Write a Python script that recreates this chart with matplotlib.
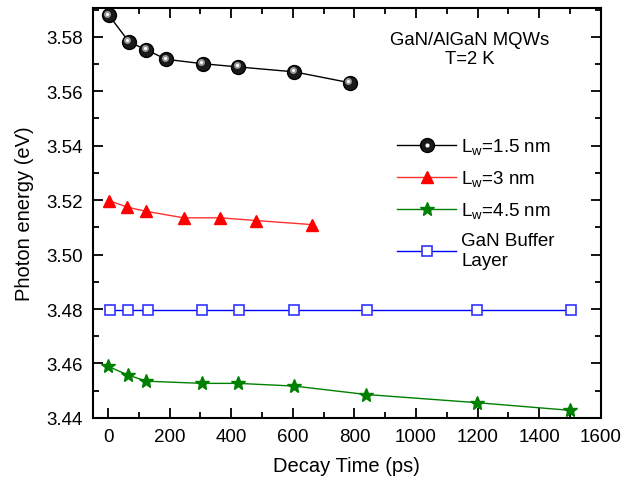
import matplotlib
matplotlib.use("Agg")
import matplotlib.pyplot as plt
import matplotlib.transforms as mtransforms
from matplotlib.lines import Line2D
from matplotlib.ticker import MultipleLocator, FormatStrFormatter

plt.rcParams['font.family'] = ['Liberation Sans', 'DejaVu Sans']

# Decay time (ps) and peak photon energy (eV) for each sample
t_15 = [3, 68, 124, 189, 307, 423, 605, 785]
e_15 = [3.5878, 3.5781, 3.5752, 3.5717, 3.5701, 3.5689, 3.5671, 3.5631]

t_30 = [3, 63, 123, 245, 364, 481, 662]
e_30 = [3.5198, 3.5174, 3.5159, 3.5135, 3.5135, 3.5125, 3.5110]

t_45 = [1, 64, 124, 305, 422, 605, 839, 1199, 1500]
e_45 = [3.4589, 3.4558, 3.4535, 3.4527, 3.4527, 3.4517, 3.4486, 3.4456, 3.4428]

t_buf = [6, 65, 130, 306, 426, 605, 842, 1197, 1502]
e_buf = [3.4797, 3.4797, 3.4797, 3.4797, 3.4797, 3.4797, 3.4797, 3.4797, 3.4797]

labels = [r'L$_\mathregular{w}$=1.5 nm', r'L$_\mathregular{w}$=3 nm',
          r'L$_\mathregular{w}$=4.5 nm', 'GaN Buffer\nLayer']

fig = plt.figure(figsize=(6.22, 4.81), dpi=100)
ax = fig.add_axes([0.149, 0.129, 0.817, 0.852])

# shaded spheres: dark ball plus a small highlight
l1, = ax.plot(t_15, e_15, '-', color='black', lw=1.0, marker='o', ms=10,
              mfc='#1a1a1a', mec='black', mew=1.0, zorder=3)
hl = mtransforms.offset_copy(ax.transData, fig=fig, x=-1.6, y=1.6, units='dots')
ax.plot(t_15, e_15, 'o', ms=5, mfc='#9a9a9a', mec='none', transform=hl, zorder=4)
ax.plot(t_15, e_15, 'o', ms=2.2, mfc='white', mec='none', transform=hl, zorder=5)

l2, = ax.plot(t_30, e_30, '-', color='#ff3030', lw=1.0, marker='^', ms=9,
              mfc='red', mec='red', zorder=3)
l3, = ax.plot(t_45, e_45, '-', color='#008000', lw=1.0, marker='*', ms=10,
              mfc='#008000', mec='#008000', zorder=3)
l4, = ax.plot(t_buf, e_buf, '-', color='#0000ff', lw=1.0, marker='s', ms=7.5,
              mfc='white', mec='#3333ff', mew=1.2, zorder=3)

ax.set_xlim(-50, 1600)
ax.set_ylim(3.44, 3.5905)
ax.xaxis.set_major_locator(MultipleLocator(200))
ax.xaxis.set_minor_locator(MultipleLocator(100))
ax.yaxis.set_major_locator(MultipleLocator(0.02))
ax.yaxis.set_minor_locator(MultipleLocator(0.01))
ax.yaxis.set_major_formatter(FormatStrFormatter('%.2f'))
ax.tick_params(which='both', direction='in', top=True, right=True,
               labelsize=13.5, width=1.3)
ax.tick_params(which='major', length=7)
ax.tick_params(which='minor', length=4)
ax.tick_params(axis='x', pad=7)
ax.tick_params(axis='y', pad=7)
for s in ax.spines.values():
    s.set_linewidth(1.5)

ax.set_xlabel('Decay Time (ps)', fontsize=14.5, labelpad=8)
ax.set_ylabel('Photon energy (eV)', fontsize=14.5, labelpad=9)

ax.text(0.742, 0.944, 'GaN/AlGaN MQWs\nT=2 K', transform=ax.transAxes,
        ha='center', va='top', fontsize=13.3, linespacing=1.15)

h1_dot = Line2D([], [], ls='none', marker='o', ms=3, mfc='white', mec='none')
ax.legend([(l1, h1_dot), l2, l3, l4], labels, loc='upper left',
          bbox_to_anchor=(0.585, 0.705), frameon=False, fontsize=13.5,
          handlelength=3.1, handletextpad=0.3, labelspacing=0.62,
          borderaxespad=0)

fig.savefig('out.png', dpi=100)
